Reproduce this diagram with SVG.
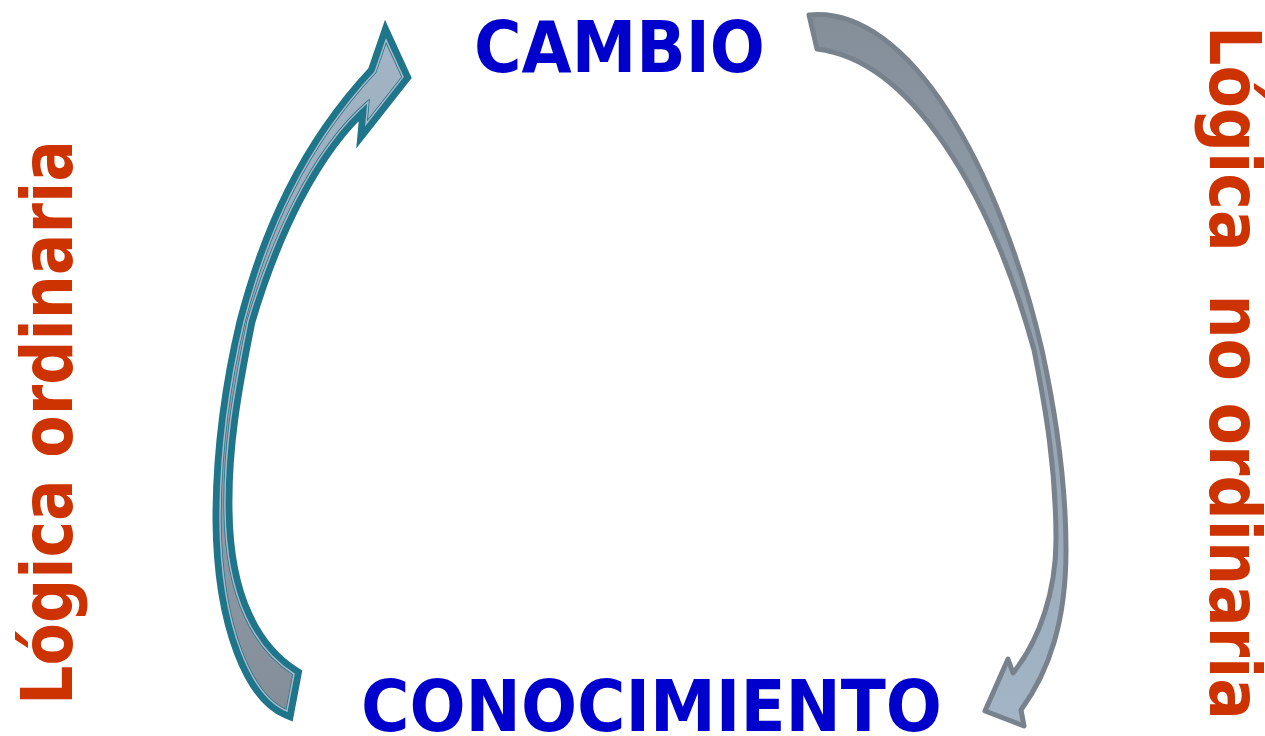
<svg xmlns="http://www.w3.org/2000/svg" width="1265" height="736" viewBox="0 0 1265 736">
  <defs>
    <linearGradient id="gLeft" x1="0" y1="0" x2="0" y2="1">
      <stop offset="0" stop-color="#A3B5C6"/>
      <stop offset="0.5" stop-color="#95A3B1"/>
      <stop offset="1" stop-color="#848E99"/>
    </linearGradient>
    <linearGradient id="gRight" x1="0" y1="0" x2="0" y2="1">
      <stop offset="0" stop-color="#848E99"/>
      <stop offset="0.5" stop-color="#95A3B1"/>
      <stop offset="1" stop-color="#A3B5C6"/>
    </linearGradient>
    <style>
      .node { font-family: "DejaVu Sans", Verdana, sans-serif; font-weight: bold; font-size: 71px; fill: #0000CC; }
      .side { font-family: "DejaVu Sans", Verdana, sans-serif; font-weight: bold; font-size: 71px; fill: #CC3300; }
      .arrowLBorder { fill: #1F7589; stroke: #1F7589; stroke-width: 15; stroke-linejoin: miter; stroke-miterlimit: 8; }
      .arrowLFill { fill: url(#gLeft); stroke: #1F7589; stroke-width: 3; stroke-linejoin: miter; }
      .arrowLine { fill: none; stroke: #A8B8C8; stroke-width: 1.5; stroke-linejoin: miter; }
      .arrowR { fill: url(#gRight); stroke: #78828D; stroke-width: 5; stroke-linejoin: round; }
    </style>
  </defs>
  <rect width="1265" height="736" fill="#FFFFFF"/>
  <g id="connectors">
    <g id="arrow-left">
      <path class="arrowLBorder" d="M 287,711 C 253,697 221,630 220,520 C 220,450 229,385 244,322 C 267,234 304,148 375,72 L 386,40 L 403,77 L 366,124 L 368,102 C 312,150 272,240 248,321 C 233,395 224,450 225,510 C 226,600 256,650 294,674 Z"/>
      <path class="arrowLFill" d="M 287,711 C 253,697 221,630 220,520 C 220,450 229,385 244,322 C 267,234 304,148 375,72 L 386,40 L 403,77 L 366,124 L 368,102 C 312,150 272,240 248,321 C 233,395 224,450 225,510 C 226,600 256,650 294,674 Z"/>
      <path class="arrowLine" d="M 287,711 C 253,697 221,630 220,520 C 220,450 229,385 244,322 C 267,234 304,148 375,72 L 386,40 L 403,77 L 366,124 L 368,102 C 312,150 272,240 248,321 C 233,395 224,450 225,510 C 226,600 256,650 294,674 Z"/>
    </g>
    <g id="arrow-right">
      <path class="arrowR" d="M 809,15 C 910,5 1000,170 1042,350 C 1055,410 1066,480 1066,550 C 1066,620 1050,670 1021,710 L 1024,726 L 985,711 L 1008,659 L 1013,673 C 1040,640 1056,590 1056,540 C 1056,470 1046,410 1034,350 C 990,190 910,60 817,49 Z"/>
    </g>
  </g>
  <g id="node-cambio">
    <text class="node" x="474" y="72" textLength="291" lengthAdjust="spacingAndGlyphs">CAMBIO</text>
  </g>
  <g id="node-conocimiento">
    <text class="node" x="361" y="731" textLength="581" lengthAdjust="spacingAndGlyphs">CONOCIMIENTO</text>
  </g>
  <g id="label-left">
    <text class="side" transform="translate(72,705) rotate(-90)" x="0" y="0" textLength="565" lengthAdjust="spacingAndGlyphs">Lógica ordinaria</text>
  </g>
  <g id="label-right">
    <text class="side" transform="translate(1210,26) rotate(90)" x="0" y="0" textLength="694" lengthAdjust="spacingAndGlyphs" xml:space="preserve">Lógica  no ordinaria</text>
  </g>
</svg>
